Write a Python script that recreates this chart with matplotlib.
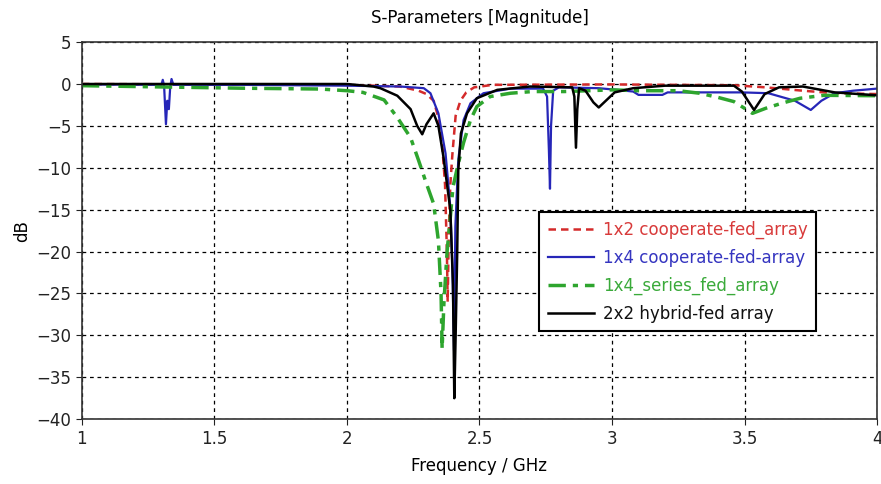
import numpy as np
import matplotlib
matplotlib.use('Agg')
import matplotlib.pyplot as plt

# values (frequency in GHz, magnitude in dB)
red_f = [1.0, 1.5, 2.0, 2.2, 2.27, 2.30, 2.327, 2.345, 2.36, 2.37, 2.377, 2.38,
         2.384, 2.39, 2.398, 2.41, 2.428, 2.45, 2.48, 2.55, 3.0, 3.46, 3.58,
         3.72, 3.84, 4.0]
red_db = [0.0, -0.05, -0.1, -0.3, -0.8, -1.2, -2.0, -4.0, -7.5, -12.0, -20.0, -26.0,
          -18.0, -12.0, -8.3, -3.8, -2.0, -1.0, -0.4, -0.1, -0.05, -0.15, -0.4,
          -0.8, -1.1, -1.2]

blue_f = [1.0, 1.30, 1.305, 1.31, 1.317, 1.322, 1.328, 1.333, 1.338, 1.345, 1.6,
          2.0, 2.2, 2.29, 2.315, 2.345, 2.372, 2.39, 2.398, 2.404, 2.409, 2.42,
          2.44, 2.466, 2.515, 2.617, 2.74, 2.755, 2.762, 2.766, 2.770, 2.778,
          2.80, 2.95, 3.02, 3.08, 3.10, 3.19, 3.21, 3.49, 3.59, 3.69, 3.75,
          3.79, 3.84, 3.91, 4.0]
blue_db = [-0.05, -0.1, 0.5, -0.2, -4.8, -2.0, -3.0, -0.4, 0.6, -0.1, -0.1,
           -0.2, -0.3, -0.5, -1.1, -3.5, -8.3, -14.7, -22.0, -31.8, -17.0, -9.0,
           -4.3, -2.3, -1.1, -0.55, -0.55, -1.5, -8.0, -12.5, -5.0, -0.8,
           -0.4, -0.5, -0.7, -0.9, -1.3, -1.3, -1.0, -1.0, -1.1, -2.0, -3.1,
           -2.0, -1.1, -0.8, -0.55]

green_f = [1.0, 1.2, 1.6, 1.9, 2.0, 2.06, 2.14, 2.19, 2.24, 2.27, 2.30, 2.327,
           2.345, 2.355, 2.359, 2.366, 2.378, 2.39, 2.40, 2.42, 2.44, 2.466,
           2.49, 2.54, 2.617, 2.70, 2.82, 3.0, 3.1, 3.25, 3.33, 3.40, 3.46,
           3.53, 3.58, 3.64, 3.71, 3.8, 4.0]
green_db = [-0.2, -0.3, -0.5, -0.6, -0.8, -1.0, -1.9, -4.0, -6.4, -9.1, -11.9, -14.3,
            -18.7, -25.0, -31.6, -26.0, -19.9, -15.9, -12.3, -9.5, -7.0, -4.3,
            -2.7, -1.5, -1.1, -0.9, -0.9, -0.7, -0.8, -0.8, -1.1, -1.6, -2.1,
            -3.5, -2.9, -2.3, -1.7, -1.35, -1.4]

black_f = [1.0, 2.0, 2.1, 2.126, 2.19, 2.24, 2.265, 2.284, 2.30, 2.327, 2.345,
           2.364, 2.39, 2.40, 2.405, 2.41, 2.416, 2.42, 2.43, 2.453, 2.49,
           2.567, 2.69, 2.85, 2.858, 2.864, 2.869, 2.876, 2.90, 2.93, 2.95,
           2.97, 3.01, 3.08, 3.2, 3.46, 3.49, 3.536, 3.576, 3.63, 3.72, 3.84, 4.0]
black_db = [0.0, 0.0, -0.3, -0.5, -1.4, -3.0, -5.0, -6.0, -4.8, -3.5, -5.0,
            -8.7, -15.0, -24.0, -37.5, -30.0, -20.0, -10.3, -5.9, -3.5, -1.7,
            -0.7, -0.3, -0.4, -1.5, -7.6, -3.0, -0.5, -0.8, -2.2, -2.8,
            -2.2, -1.0, -0.5, -0.2, -0.2, -0.9, -3.1, -1.2, -0.4, -0.3, -1.0, -1.35]

labels = ['1x2 cooperate-fed_array', '1x4 cooperate-fed-array',
          '1x4_series_fed_array', '2x2 hybrid-fed array']
colors = ['#d42a2a', '#2626b8', '#2ea52e', '#000000']
text_colors = ['#d83a3a', '#3535c0', '#3aaa3a', '#111111']

plt.rcParams['font.family'] = ['DejaVu Sans']
fig = plt.figure(figsize=(8.81, 4.84), dpi=100)
ax = fig.add_axes([0.093, 0.134, 0.9025, 0.779])

ax.plot(red_f, red_db, color=colors[0], ls=(0, (3, 2)), lw=1.8, label=labels[0])
ax.plot(blue_f, blue_db, color=colors[1], ls='-', lw=1.6, label=labels[1])
ax.plot(green_f, green_db, color=colors[2], ls=(0, (5, 2, 1.5, 2)), lw=2.5, label=labels[2])
ax.plot(black_f, black_db, color=colors[3], ls='-', lw=1.8, label=labels[3])

ax.set_xlim(1, 4)
ax.set_ylim(-40, 5)
ax.set_xticks([1, 1.5, 2, 2.5, 3, 3.5, 4])
ax.set_xticklabels(['1', '1.5', '2', '2.5', '3', '3.5', '4'])
ax.set_yticks(np.arange(-40, 6, 5))
ax.grid(True, color='black', ls=(0, (3, 3)), lw=0.9)
ax.tick_params(direction='out', length=4, labelsize=12, colors='#222222')
for s in ax.spines.values():
    s.set_color('#333333')
    s.set_linewidth(1.2)

ax.set_title('S-Parameters [Magnitude]', fontsize=12, pad=13.5)
ax.set_xlabel('Frequency / GHz', fontsize=12, labelpad=7)
ax.set_ylabel('dB', fontsize=12, labelpad=4)

leg = ax.legend(loc='upper right', bbox_to_anchor=(0.923, 0.549), fontsize=12,
                frameon=True, fancybox=False, framealpha=1, edgecolor='black',
                borderpad=0.5, handlelength=2.8, handletextpad=0.5,
                labelspacing=0.6, borderaxespad=0)
leg.get_frame().set_linewidth(1.5)
for txt, c in zip(leg.get_texts(), text_colors):
    txt.set_color(c)

fig.savefig('out.png', dpi=100)
